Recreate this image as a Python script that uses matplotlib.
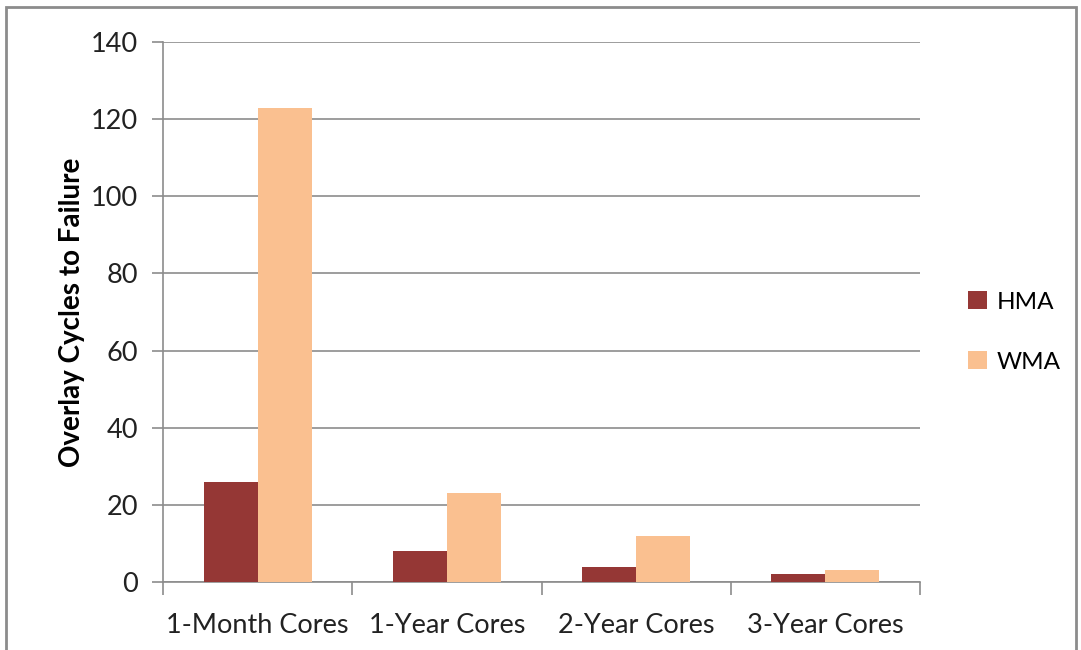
import matplotlib.pyplot as plt
import numpy as np
from matplotlib.patches import Rectangle

categories = ['1-Month Cores', '1-Year Cores', '2-Year Cores', '3-Year Cores']
hma = [26, 8, 4, 2]
wma = [123, 23, 12, 3]
series_names = ['HMA', 'WMA']
yticks = [0, 20, 40, 60, 80, 100, 120, 140]

plt.rcParams['font.family'] = ['Lato', 'DejaVu Sans']

fig = plt.figure(figsize=(10.81, 6.50), dpi=100)
ax = fig.add_axes([163 / 1081, 1 - 582 / 650, (920 - 163) / 1081, (582 - 42) / 650])

# outer chart border
fig.add_artist(Rectangle((6 / 1081, -0.05), (1076 - 6) / 1081, 1.05 - 7 / 650,
                         transform=fig.transFigure, fill=False,
                         edgecolor='#8c8c8c', linewidth=2))

grid_col = '#8c8c8c'
x = np.arange(len(categories))
w = 0.285
ax.bar(x - w / 2, hma, width=w, color='#953735', label=series_names[0], zorder=3)
ax.bar(x + w / 2, wma, width=w, color='#fac090', label=series_names[1], zorder=3)

ax.set_xlim(-0.5, len(categories) - 0.5)
ax.set_ylim(0, 140)
ax.set_yticks(yticks)
ax.yaxis.grid(True, color=grid_col, linewidth=1.2, zorder=0)

for side in ['top', 'right']:
    ax.spines[side].set_visible(False)
for side in ['left', 'bottom']:
    ax.spines[side].set_color(grid_col)
    ax.spines[side].set_linewidth(1.2)

ax.set_xticks(x)
ax.set_xticklabels(categories, fontsize=19.5, color='#222222')
ax.tick_params(axis='x', length=0, pad=22)
ax.set_xticks(np.arange(-0.5, len(categories)), minor=True)
ax.tick_params(axis='x', which='minor', length=9, color=grid_col, width=1.2)
ax.tick_params(axis='y', length=8, color=grid_col, width=1.2, labelsize=19.5,
               labelcolor='#222222', pad=10)

ax.set_ylabel('Overlay Cycles to Failure', fontsize=20, fontweight='bold',
              labelpad=4)

ax.legend(loc='center left', bbox_to_anchor=(1.064, 0.463), frameon=False,
          borderpad=0, borderaxespad=0,
          fontsize=17.5, handlelength=0.75, handleheight=0.75,
          labelspacing=1.6, handletextpad=0.4)

fig.savefig('out.png', dpi=100)
